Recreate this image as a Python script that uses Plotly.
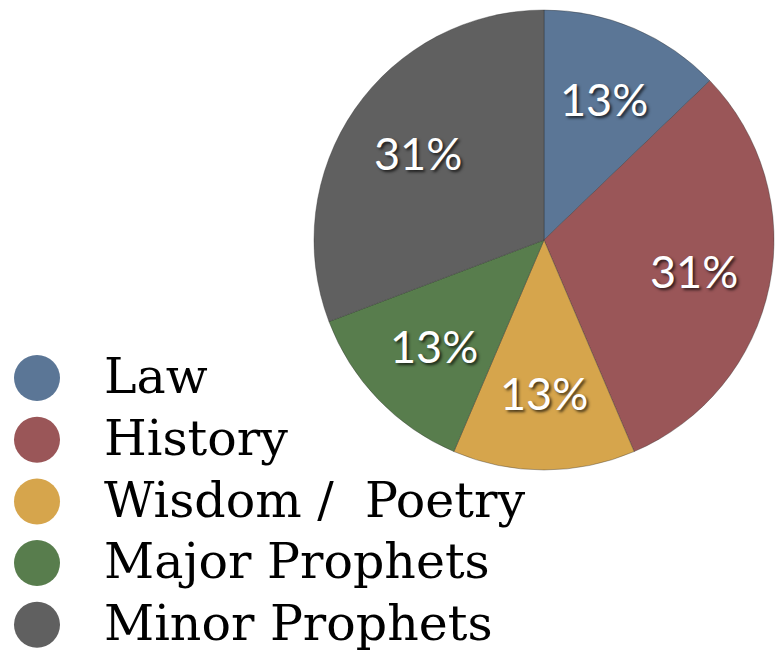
import math
import plotly.graph_objects as go

categories = ["Law", "History", "Wisdom /\u00a0\u00a0Poetry", "Major Prophets", "Minor Prophets"]
books = [5, 12, 5, 5, 12]
colors = ["#5b7696", "#9a5658", "#d6a54c", "#587d4d", "#606060"]

W, H = 776, 659
CX, CY, R = 544, 240, 230

fig = go.Figure()

fig.add_trace(go.Pie(
    values=books,
    labels=categories,
    sort=False,
    direction="clockwise",
    rotation=0,
    marker=dict(colors=colors, line=dict(color="rgba(40,40,40,0.35)", width=1)),
    textinfo="none",
    domain=dict(x=[(CX - R) / W, (CX + R) / W], y=[1 - (CY + R) / H, 1 - (CY - R) / H]),
    showlegend=False,
    hoverinfo="label+percent",
))

# percentage labels placed at a fixed fraction of the radius, at each slice's mid-angle
total = sum(books)
cum = 0
for v in books:
    mid = (cum + v / 2) / total * 2 * math.pi
    cum += v
    r = 0.665 * R
    fig.add_annotation(
        x=CX + r * math.sin(mid), y=CY - r * math.cos(mid),
        xref="x", yref="y", showarrow=False,
        text=f"{round(100 * v / total)}%",
        font=dict(family="Lato, Open Sans, sans-serif", size=45, color="white",
                  shadow="2px 2px 3px rgba(0,0,0,0.7)"),
        xanchor="center", yanchor="middle",
    )

# custom legend: large circles + labels
row_y = [378 + i * 61.7 for i in range(len(categories))]
fig.add_trace(go.Scatter(
    x=[37] * len(categories), y=row_y, mode="markers",
    marker=dict(size=46, color=colors, line=dict(width=0)),
    showlegend=False, hoverinfo="skip", xaxis="x", yaxis="y",
))
fig.add_trace(go.Scatter(
    x=[104] * len(categories), y=[v + 3 for v in row_y], mode="text",
    text=categories, textposition="middle right",
    textfont=dict(family="DejaVu Serif, serif", size=49, color="black"),
    showlegend=False, hoverinfo="skip", xaxis="x", yaxis="y",
))

fig.update_layout(
    width=W, height=H,
    margin=dict(l=0, r=0, t=0, b=0),
    paper_bgcolor="white", plot_bgcolor="rgba(0,0,0,0)",
    xaxis=dict(range=[0, W], visible=False, domain=[0, 1], fixedrange=True),
    yaxis=dict(range=[H, 0], visible=False, domain=[0, 1], fixedrange=True),
)

fig.write_html("out.html", config={"displayModeBar": False},
               post_script="document.body.style.margin='0';document.body.style.padding='0';")
